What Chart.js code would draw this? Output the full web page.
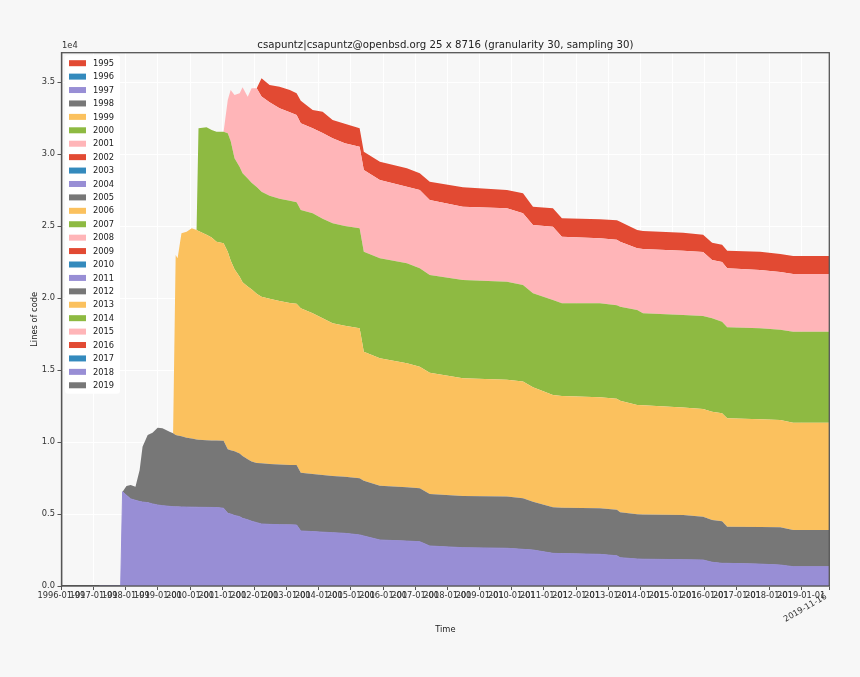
<!DOCTYPE html>
<html>
<head>
<meta charset="utf-8">
<script src="https://cdn.jsdelivr.net/npm/chart.js@4.4.0/dist/chart.umd.min.js"></script>
<style>
html,body{margin:0;padding:0;background:#F7F7F7;}
canvas{display:block;}
</style>
</head>
<body>
<canvas id="c" width="860" height="677"></canvas>
<script>
// ---- data ----
const chartTitle = 'csapuntz|csapuntz@openbsd.org 25 x 8716 (granularity 30, sampling 30)';
const cohortLabels = ['1995','1996','1997','1998','1999','2000','2001','2002','2003','2004','2005','2006','2007','2008','2009','2010','2011','2012','2013','2014','2015','2016','2017','2018','2019'];
const times = [1997.18,1997.84,1997.90,1998.02,1998.15,1998.30,1998.43,1998.52,1998.68,1998.83,1998.99,1999.14,1999.36,1999.47,1999.55,1999.61,1999.73,1999.89,2000.05,2000.20,2000.26,2000.51,2000.67,2000.82,2001.04,2001.17,2001.26,2001.38,2001.54,2001.63,2001.79,2001.91,2002.07,2002.22,2002.47,2002.78,2003.10,2003.31,2003.44,2003.81,2004.12,2004.43,2004.81,2005.27,2005.40,2005.90,2006.74,2007.14,2007.45,2008.48,2009.85,2010.35,2010.66,2011.28,2011.56,2012.74,2013.27,2013.37,2013.90,2014.08,2015.33,2015.95,2016.23,2016.54,2016.70,2017.72,2018.35,2018.75,2019.874];
const s1997 = [0,0,6548,6300,6050,5950,5870,5830,5790,5700,5625,5580,5530,5510,5500,5495,5490,5480,5475,5470,5465,5460,5455,5450,5400,5046,5000,4900,4815,4700,4600,4500,4400,4305,4280,4260,4245,4236,3820,3780,3740,3704,3657,3550,3472,3194,3120,3078,2778,2662,2620,2546,2500,2268,2250,2199,2100,1968,1875,1860,1830,1806,1650,1574,1574,1520,1458,1343,1343];
const s1998 = [0,0,0,644,964,950,2185,3844,4696,4948,5370,5369,5188,5090,4986,4955,4910,4821,4775,4710,4685,4660,4655,4650,4693,4444,4420,4450,4385,4328,4200,4150,4150,4214,4200,4180,4165,4167,4050,4000,3960,3935,3936,3927,3843,3773,3730,3704,3611,3588,3590,3554,3356,3195,3190,3194,3200,3148,3102,3100,3101,3009,2933,2926,2546,2580,2616,2546,2546];
const s1999 = [0,0,0,0,0,0,0,0,0,0,0,0,0,0,12500,12305,14091,14305,14588,14542,14510,14280,14090,13812,13707,13727,13180,12650,12277,12072,12000,11950,11750,11573,11470,11360,11240,11197,11413,11156,10900,10603,10487,10418,8955,8845,8615,8447,8423,8173,8110,8100,7942,7800,7760,7711,7700,7752,7592,7590,7469,7485,7517,7493,7526,7480,7454,7451,7451];
const s2000 = [0,0,0,0,0,0,0,0,0,0,0,0,0,0,0,0,0,0,0,0,7123,7452,7465,7636,7748,8216,8300,7700,7623,7558,7500,7400,7400,7289,7150,7100,7100,7050,6827,6945,6900,6945,6920,6943,6947,6943,6944,6833,6785,6827,6811,6702,6526,6597,6430,6526,6500,6530,6598,6386,6418,6450,6500,6360,6318,6315,6272,6323,6323];
const s2001 = [0,0,0,0,0,0,0,0,0,0,0,0,0,0,0,0,0,0,0,0,0,0,0,0,0,2316,3543,4396,5112,5970,5680,6559,6859,6619,6500,6271,6150,6050,6020,5902,5950,5902,5750,5668,5671,5438,5320,5436,5207,5090,5097,4979,4744,5090,4629,4514,4550,4514,4283,4464,4467,4450,4038,4147,4098,4049,4000,4003,4003];
const s2002 = [0,0,0,0,0,0,0,0,0,0,0,0,0,0,0,0,0,0,0,0,0,0,0,0,0,0,0,0,0,0,0,0,0,1255,1190,1502,1543,1512,1570,1271,1486,1271,1350,1277,1270,1271,1276,1160,1271,1344,1270,1386,1272,1278,1275,1319,1350,1389,1272,1250,1252,1200,1205,1200,1223,1273,1250,1250,1250];
const seriesByCohort = {'1997': s1997, '1998': s1998, '1999': s1999, '2000': s2000, '2001': s2001, '2002': s2002};
const xTickYears = [1996,1997,1998,1999,2000,2001,2002,2003,2004,2005,2006,2007,2008,2009,2010,2011,2012,2013,2014,2015,2016,2017,2018,2019];
const endTime = 2019.874;
const endDateLabel = '2019-11-16';
const yTicks = [0,5000,10000,15000,20000,25000,30000,35000];
const yMax = 37035;
const palette = ['#E24A33','#348ABD','#988ED5','#777777','#FBC15E','#8EBA42','#FFB5B8'];

// ---- datasets ----
const datasets = cohortLabels.map((lab, i) => {
  const vals = seriesByCohort[lab];
  const color = palette[i % palette.length];
  const data = vals ? times.map((t, k) => ({x: t, y: vals[k]})) : [];
  let fill = false;
  if (lab === '1997') fill = 'origin';
  else if (vals) fill = '-1';
  return {
    label: lab,
    data: data,
    backgroundColor: color,
    borderColor: color,
    borderWidth: lab === '1997' ? 1 : 0,
    pointRadius: 0,
    pointHoverRadius: 0,
    tension: 0,
    fill: fill
  };
});

Chart.defaults.font.family = "'DejaVu Sans', sans-serif";

const decoPlugin = {
  id: 'deco',
  beforeDraw(chart) {
    const ctx = chart.ctx;
    ctx.save();
    ctx.fillStyle = '#F7F7F7';
    ctx.fillRect(0, 0, chart.width, chart.height);
    ctx.restore();
  },
  afterDatasetsDraw(chart) {
    const ctx = chart.ctx;
    const a = chart.chartArea;
    ctx.save();
    // legend (matplotlib style, upper left inside the axes)
    const step = 13.42;
    const n = chart.data.datasets.length;
    const bx = a.left + 3.5, by = a.top + 2.5;
    const bw = 55, bh = n * step + 3;
    ctx.fillStyle = 'rgba(255,255,255,0.9)';
    ctx.beginPath();
    if (ctx.roundRect) ctx.roundRect(bx, by, bw, bh, 3); else ctx.rect(bx, by, bw, bh);
    ctx.fill();
    ctx.font = "8.3px 'DejaVu Sans', sans-serif";
    ctx.textAlign = 'left';
    ctx.textBaseline = 'middle';
    chart.data.datasets.forEach((ds, i) => {
      const cy = a.top + 10.5 + i * step;
      ctx.fillStyle = ds.backgroundColor;
      ctx.fillRect(a.left + 7.5, cy - 3, 17, 6);
      ctx.fillStyle = '#222222';
      ctx.fillText(ds.label, a.left + 31.5, cy + 0.5);
    });
    // frame
    ctx.strokeStyle = '#555555';
    ctx.lineWidth = 1.3;
    ctx.strokeRect(a.left, a.top, a.right - a.left, a.bottom - a.top);
    ctx.restore();
  },
  afterDraw(chart) {
    const ctx = chart.ctx;
    const a = chart.chartArea;
    const xs = chart.scales.x;
    ctx.save();
    ctx.fillStyle = '#333333';
    ctx.font = "8.3px 'DejaVu Sans', sans-serif";
    ctx.textAlign = 'left';
    ctx.textBaseline = 'middle';
    ctx.fillText('1e4', a.left + 0.5, a.top - 6.5);
    const px = xs.getPixelForValue(endTime);
    ctx.translate(px - 3, xs.top + 10);
    ctx.rotate(-Math.PI / 6);
    ctx.textAlign = 'right';
    ctx.fillText(endDateLabel, 0, 0);
    ctx.restore();
  }
};

new Chart(document.getElementById('c'), {
  type: 'line',
  data: { datasets: datasets },
  plugins: [decoPlugin],
  options: {
    responsive: false,
    animation: false,
    devicePixelRatio: 1,
    layout: { padding: { left: 0, right: 30.7, top: 0, bottom: 0 } },
    plugins: {
      title: {
        display: true,
        fullSize: false,
        text: chartTitle,
        color: '#222222',
        font: { size: 10.2, weight: 'normal' },
        padding: { top: 38.9, bottom: 1.56 }
      },
      legend: { display: false },
      tooltip: { enabled: false }
    },
    scales: {
      x: {
        type: 'linear',
        min: 1996,
        max: endTime,
        afterBuildTicks(scale) {
          scale.ticks = xTickYears.concat([endTime]).map(v => ({ value: v }));
        },
        afterFit(scale) { scale.height = 91; },
        ticks: {
          autoSkip: false,
          maxRotation: 0,
          minRotation: 0,
          padding: 1,
          color: '#333333',
          font: { size: 8.3 },
          callback(value) {
            return value === endTime ? '' : value + '-01-01';
          }
        },
        grid: { color: '#FFFFFF', lineWidth: 1, drawTicks: true, tickLength: 4, tickColor: '#555555', tickWidth: 1 },
        border: { display: true, color: '#555555', width: 1.3 },
        title: { display: true, text: 'Time', color: '#222222', font: { size: 8.3 }, padding: { top: 0, bottom: 42 } }
      },
      y: {
        type: 'linear',
        stacked: true,
        min: 0,
        max: yMax,
        afterBuildTicks(scale) {
          scale.ticks = yTicks.map(v => ({ value: v }));
        },
        afterFit(scale) { scale.width = 61.5; },
        ticks: {
          padding: 2.5,
          color: '#333333',
          font: { size: 8.3 },
          callback(value) { return (value / 10000).toFixed(1); }
        },
        grid: { color: '#FFFFFF', lineWidth: 1, drawTicks: true, tickLength: 4, tickColor: '#555555', tickWidth: 1 },
        border: { display: true, color: '#555555', width: 1.3 },
        title: { display: true, text: 'Lines of code', color: '#222222', font: { size: 8.3 }, padding: { top: 30, bottom: 0 } }
      }
    }
  }
});
</script>
</body>
</html>
